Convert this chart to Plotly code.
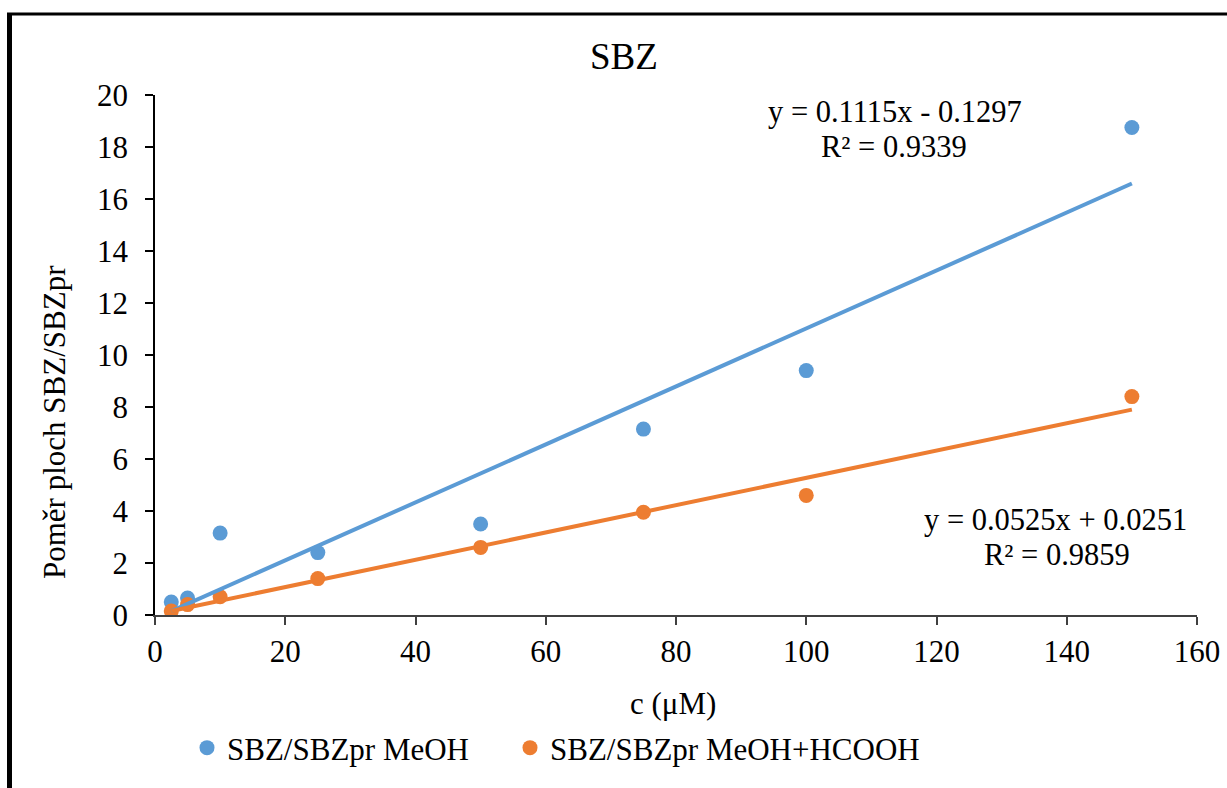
import plotly.graph_objects as go

# ---- data ----
conc = [2.5, 5, 10, 25, 50, 75, 100, 150]
meoh = [0.50, 0.65, 3.15, 2.40, 3.50, 7.15, 9.40, 18.75]
meoh_hcooh = [0.15, 0.40, 0.70, 1.40, 2.60, 3.95, 4.60, 8.40]
fit_meoh = (0.1115, -0.1297)
fit_hcooh = (0.0525, 0.0251)
names = ["SBZ/SBZpr MeOH", "SBZ/SBZpr MeOH+HCOOH"]
eq_texts = [("y = 0.1115x - 0.1297", "R² = 0.9339"),
            ("y = 0.0525x + 0.0251", "R² = 0.9859")]
x_ticks = [0, 20, 40, 60, 80, 100, 120, 140, 160]
y_ticks = [0, 2, 4, 6, 8, 10, 12, 14, 16, 18, 20]

BLUE = "#5B9BD5"
ORANGE = "#ED7D31"
FONT = "'Liberation Serif', 'Times New Roman', 'DejaVu Serif', serif"

W, H = 1227, 788
L, R, T, B = 155, 30, 95, 173
PW, PH = W - L - R, H - T - B


def px(xp):
    return (xp - L) / PW


def py(yp):
    return (H - B - yp) / PH


fig = go.Figure()
fig.add_trace(go.Scatter(x=conc, y=meoh, mode="markers", name=names[0],
                         marker=dict(color=BLUE, size=15), legend="legend"))
fig.add_trace(go.Scatter(x=conc, y=meoh_hcooh, mode="markers", name=names[1],
                         marker=dict(color=ORANGE, size=15), legend="legend2"))

for (k, q), col in [(fit_meoh, BLUE), (fit_hcooh, ORANGE)]:
    xs = [min(conc), max(conc)]
    fig.add_trace(go.Scatter(x=xs, y=[k * v + q for v in xs], mode="lines",
                             line=dict(color=col, width=4), showlegend=False,
                             hoverinfo="skip"))

annotations = [
    dict(text="SBZ", x=px(624), y=py(56), font=dict(size=37)),
    dict(text="Poměr ploch SBZ/SBZpr", x=px(54), y=py(422), textangle=-90,
         font=dict(size=31)),
    dict(text="c (μM)", x=px(673), y=py(703), font=dict(size=31)),
    dict(text=eq_texts[0][0], x=px(895), y=py(112), font=dict(size=30.5)),
    dict(text=eq_texts[0][1], x=px(894), y=py(147), font=dict(size=30.5)),
    dict(text=eq_texts[1][0], x=px(1055), y=py(520), font=dict(size=30.5)),
    dict(text=eq_texts[1][1], x=px(1057), y=py(555), font=dict(size=30.5)),
]
for a in annotations:
    a.update(xref="paper", yref="paper", showarrow=False, xanchor="center",
             yanchor="middle")
    a["font"].update(family=FONT, color="black")

leg_common = dict(orientation="h", yanchor="middle", xanchor="left",
                  font=dict(size=31, family=FONT, color="black"),
                  bgcolor="rgba(0,0,0,0)")

fig.update_layout(
    width=W, height=H,
    margin=dict(l=L, r=R, t=T, b=B, autoexpand=False),
    paper_bgcolor="white", plot_bgcolor="white",
    font=dict(family=FONT, size=31, color="black"),
    showlegend=True,
    legend=dict(x=px(187), y=py(748), **leg_common),
    legend2=dict(x=px(510), y=py(748), **leg_common),
    annotations=annotations,
    shapes=[
        dict(type="line", xref="paper", yref="paper", x0=px(9.5), x1=px(9.5),
             y0=py(800), y1=py(13.5), line=dict(color="black", width=5)),
        dict(type="line", xref="paper", yref="paper", x0=px(7), x1=px(1240),
             y0=py(14), y1=py(14), line=dict(color="black", width=3)),
    ],
)
fig.update_xaxes(range=[0, 160], tickvals=x_ticks, ticks="outside", ticklen=8,
                 tickcolor="#404040", tickwidth=1.5, automargin=False,
                 showline=True, linecolor="#404040", linewidth=2,
                 showgrid=False, zeroline=False, ticklabelstandoff=0,
                 tickfont=dict(size=31, family=FONT))
fig.update_yaxes(range=[0, 20], tickvals=y_ticks, ticks="outside", ticklen=8,
                 tickcolor="black", tickwidth=1.5, automargin=False,
                 showline=True, linecolor="black", linewidth=1.5,
                 showgrid=False, zeroline=False, ticklabelstandoff=11,
                 tickfont=dict(size=31, family=FONT))

fig.write_html("out.html")
